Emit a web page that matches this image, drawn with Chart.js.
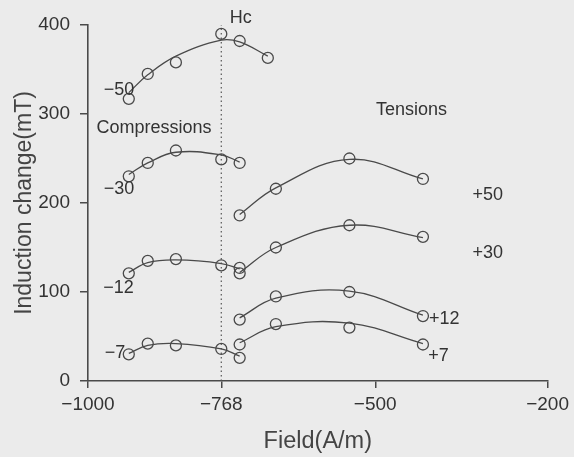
<!DOCTYPE html>
<html>
<head>
<meta charset="utf-8">
<script src="https://cdn.jsdelivr.net/npm/chart.js@4.4.1/dist/chart.umd.min.js"></script>
<style>
  html, body { margin: 0; padding: 0; background: #ebebeb; }
  canvas { display: block; }
</style>
</head>
<body>
<canvas id="chart" width="574" height="457"></canvas>
<script>
// field positions (A/m)
const compField = [-929, -896, -847, -768, -736, -687];
const tensField = [-736, -673, -545, -417];

// measured points (mT)
const comp50 = [317, 345, 358, 390, 382, 363];
const comp30 = [230, 245, 259, 249, 245];
const comp12 = [121, 135, 137, 130, 127];
const comp7 = [30, 42, 40, 36, 26];
const tens50 = [186, 216, 250, 227];
const tens30 = [121, 150, 175, 162];
const tens12 = [69, 95, 100, 73];
const tens7 = [41, 64, 60, 41];

// fitted curves (mT)
const fitComp50 = [324, 344, 365, 383, 381, 365];
const fitComp30 = [232, 245, 257, 254, 246];
const fitComp12 = [122, 133, 136, 132, 126];
const fitComp7 = [31, 40, 42, 36, 28];
const fitTens50 = [187, 217, 249, 227];
const fitTens30 = [122, 150, 175, 161];
const fitTens12 = [71, 93, 101, 74];
const fitTens7 = [43, 61, 65, 42];

// coercive field line
const hcField = [-768, -768];
const hcLevel = [0, 400];

// axis ticks
const xTicks = [-1000, -768, -500, -200];
const xTickLabels = ["\u22121000", "\u2212768", "\u2212500", "\u2212200"];
const yTicks = [0, 100, 200, 300, 400];

// text labels placed in data units
const notes = [
  { text: "Hc", x: -734, y: 408 },
  { text: "\u221250", x: -946, y: 327 },
  { text: "Compressions", x: -885, y: 284 },
  { text: "\u221230", x: -946, y: 216 },
  { text: "\u221212", x: -947, y: 104 },
  { text: "\u22127", x: -953, y: 31 },
  { text: "Tensions", x: -437, y: 304 },
  { text: "+50", x: -304, y: 209 },
  { text: "+30", x: -304, y: 144 },
  { text: "+12", x: -380, y: 70 },
  { text: "+7", x: -390, y: 28 }
];

const ink = "#4a4a4a";
const textInk = "#333";

function pts(xs, ys) {
  return ys.map((y, i) => ({ x: xs[i], y: y }));
}

function curve(xs, ys) {
  return {
    data: pts(xs, ys),
    showLine: true,
    tension: 0.4,
    borderColor: ink,
    borderWidth: 1.3,
    pointRadius: 0,
    fill: false
  };
}

function marks(xs, ys) {
  return {
    data: pts(xs, ys),
    showLine: false,
    pointRadius: 5.5,
    pointBorderWidth: 1.3,
    pointBorderColor: ink,
    pointBackgroundColor: "rgba(0,0,0,0)"
  };
}

const notesPlugin = {
  id: "notes",
  afterDatasetsDraw(chart) {
    const ctx = chart.ctx;
    const xs = chart.scales.x;
    const ys = chart.scales.y;
    ctx.save();
    ctx.font = '18px "Liberation Sans", Arial, sans-serif';
    ctx.fillStyle = textInk;
    ctx.textAlign = "center";
    ctx.textBaseline = "middle";
    notes.forEach(n => {
      ctx.fillText(n.text, xs.getPixelForValue(n.x), ys.getPixelForValue(n.y));
    });
    ctx.restore();
  }
};

Chart.defaults.font.family = '"Liberation Sans", Arial, sans-serif';
Chart.defaults.color = textInk;

new Chart(document.getElementById("chart"), {
  type: "scatter",
  data: {
    datasets: [
      curve(compField, fitComp50),
      curve(compField.slice(0, 5), fitComp30),
      curve(compField.slice(0, 5), fitComp12),
      curve(compField.slice(0, 5), fitComp7),
      curve(tensField, fitTens50),
      curve(tensField, fitTens30),
      curve(tensField, fitTens12),
      curve(tensField, fitTens7),
      marks(compField, comp50),
      marks(compField.slice(0, 5), comp30),
      marks(compField.slice(0, 5), comp12),
      marks(compField.slice(0, 5), comp7),
      marks(tensField, tens50),
      marks(tensField, tens30),
      marks(tensField, tens12),
      marks(tensField, tens7),
      {
        data: pts(hcField, hcLevel),
        showLine: true,
        borderColor: "#555",
        borderWidth: 1.2,
        borderDash: [1.5, 3],
        pointRadius: 0
      }
    ]
  },
  options: {
    responsive: false,
    animation: false,
    layout: { padding: { top: 25, right: 25, left: 0, bottom: 0 } },
    plugins: {
      legend: { display: false },
      tooltip: { enabled: false }
    },
    scales: {
      x: {
        type: "linear",
        min: -1000,
        max: -200,
        afterBuildTicks: scale => { scale.ticks = xTicks.map(v => ({ value: v })); },
        afterFit: scale => { scale.height = 76; },
        ticks: {
          callback: value => xTickLabels[xTicks.indexOf(value)],
          font: { size: 19 },
          color: textInk,
          padding: 5,
          maxRotation: 0
        },
        grid: { drawOnChartArea: false, drawTicks: true, tickLength: 7, color: ink, lineWidth: 1.5 },
        border: { color: ink, width: 1.6 },
        title: {
          display: true,
          text: "Field(A/m)",
          font: { size: 23.5 },
          color: "#444",
          padding: { top: 4, bottom: 1 }
        }
      },
      y: {
        min: 0,
        max: 400,
        afterBuildTicks: scale => { scale.ticks = yTicks.map(v => ({ value: v })); },
        afterFit: scale => { scale.width = 88; },
        ticks: {
          font: { size: 19 },
          color: textInk,
          padding: 10
        },
        grid: { drawOnChartArea: false, drawTicks: true, tickLength: 8, color: ink, lineWidth: 1.5 },
        border: { color: ink, width: 1.6 },
        title: {
          display: true,
          text: "Induction change(mT)",
          font: { size: 23 },
          color: "#444",
          padding: { top: 11, bottom: 2 }
        }
      }
    }
  },
  plugins: [notesPlugin]
});
</script>
</body>
</html>
